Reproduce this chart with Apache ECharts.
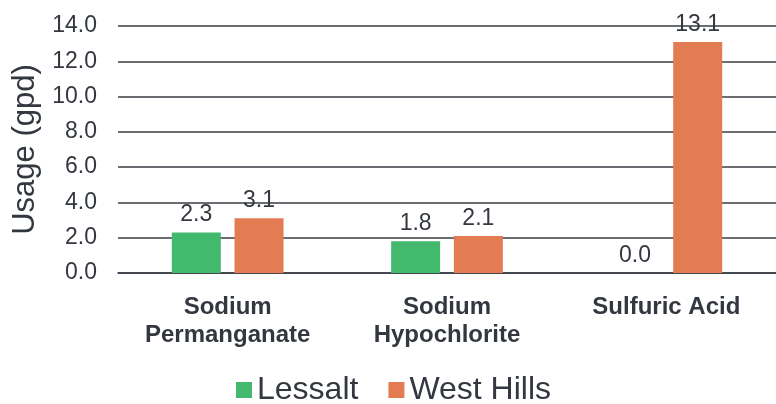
<!DOCTYPE html>
<html><head><meta charset="utf-8">
<script src="https://cdn.jsdelivr.net/npm/echarts@6/dist/echarts.min.js"></script>
<style>html,body{margin:0;padding:0;background:#fff}#c{width:776px;height:404px}</style>
</head><body><div id="c"></div>
<script>
const categories = ['Sodium\nPermanganate', 'Sodium\nHypochlorite', 'Sulfuric Acid'];
const lessalt = [2.3, 1.8, 0.0];
const westHills = [3.1, 2.1, 13.1];
const yTicks = [0, 2, 4, 6, 8, 10, 12, 14];
const seriesNames = ['Lessalt', 'West Hills'];

const textColor = '#333740';
const font = 'Liberation Sans, Arial, sans-serif';
const chart = echarts.init(document.getElementById('c'));
const valueLabel = {
  show: true, position: 'top', distance: 6, color: textColor,
  fontFamily: font, fontSize: 23,
  formatter: p => p.value.toFixed(1)
};
chart.setOption({
  animation: false,
  textStyle: { fontFamily: font },
  grid: { left: 118, right: 0, top: 26, bottom: 131, containLabel: false, outerBoundsMode: 'none' },
  legend: {
    data: seriesNames, bottom: -7, left: 231,
    itemWidth: 16, itemHeight: 16, itemGap: 30,
    icon: 'rect',
    textStyle: { fontSize: 32, color: textColor, fontFamily: font }
  },
  xAxis: {
    type: 'category', data: categories,
    axisLine: { show: true, lineStyle: { color: '#3a3d45', width: 1.5 } },
    axisTick: { show: false },
    axisLabel: { fontSize: 24, fontWeight: 'bold', color: textColor, margin: 20, lineHeight: 28, fontFamily: font, interval: 0 }
  },
  yAxis: {
    type: 'value', min: yTicks[0], max: yTicks[yTicks.length - 1], interval: 2,
    name: 'Usage (gpd)', nameLocation: 'middle', nameGap: 73,
    nameTextStyle: { fontSize: 31, color: textColor, fontFamily: font },
    axisLine: { show: false }, axisTick: { show: false },
    axisLabel: { fontSize: 23, color: textColor, margin: 21, fontFamily: font, formatter: v => v.toFixed(1) },
    splitLine: { lineStyle: { color: '#3a3d45', width: 1.5 } }
  },
  series: [
    { name: seriesNames[0], type: 'bar', data: lessalt, barWidth: 49, barGap: '28%',
      itemStyle: { color: '#43B96E' }, label: valueLabel },
    { name: seriesNames[1], type: 'bar', data: westHills, barWidth: 49,
      itemStyle: { color: '#E37C53' }, label: valueLabel }
  ]
});
</script></body></html>
